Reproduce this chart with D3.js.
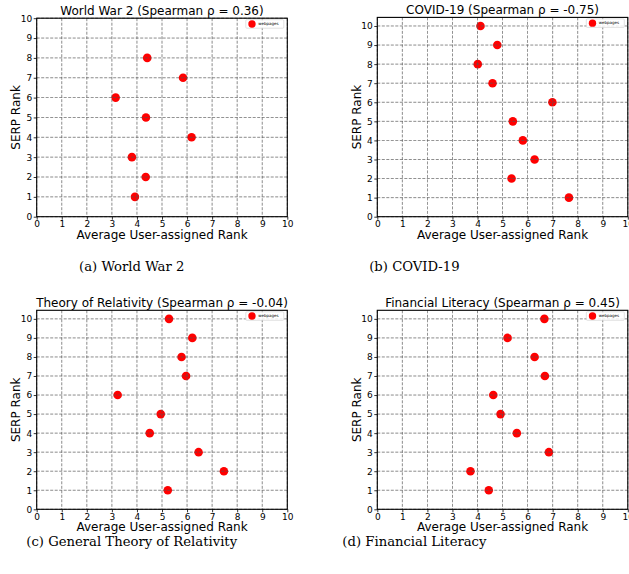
<!DOCTYPE html>
<html>
<head>
<meta charset="utf-8">
<script src="https://cdnjs.cloudflare.com/ajax/libs/d3/7.8.5/d3.min.js"></script>
<style>
  html, body { margin: 0; padding: 0; background: #fff; }
  svg { display: block; }
</style>
</head>
<body>
<svg id="chart" width="629" height="574"></svg>
<script>
// ---- data ----
const panelTitles = [
  "World War 2 (Spearman ρ = 0.36)",
  "COVID-19 (Spearman ρ = -0.75)",
  "Theory of Relativity (Spearman ρ = -0.04)",
  "Financial Literacy (Spearman ρ = 0.45)"
];
const panelCaptions = [
  "(a) World War 2",
  "(b) COVID-19",
  "(c) General Theory of Relativity",
  "(d) Financial Literacy"
];
const xTickLabels = [0, 1, 2, 3, 4, 5, 6, 7, 8, 9, 10];
const yTickLabels = [0, 1, 2, 3, 4, 5, 6, 7, 8, 9, 10];
const xLabel = "Average User-assigned Rank";
const yLabel = "SERP Rank";
const legendLabel = "webpages";

// SERP rank 1..n, average user-assigned rank
const serpWW2 = [1, 2, 3, 4, 5, 6, 7, 8];
const userWW2 = [3.92, 4.35, 3.80, 6.18, 4.36, 3.15, 5.84, 4.41];
const serpCovid = [1, 2, 3, 4, 5, 6, 7, 8, 9, 10];
const userCovid = [7.65, 5.36, 6.28, 5.81, 5.41, 6.99, 4.60, 4.01, 4.79, 4.12];
const serpRel = [1, 2, 3, 4, 5, 6, 7, 8, 9, 10];
const userRel = [5.23, 7.47, 6.46, 4.51, 4.95, 3.23, 5.96, 5.78, 6.21, 5.28];
const serpFin = [1, 2, 3, 4, 5, 6, 7, 8, 9, 10];
const userFin = [4.45, 3.72, 6.85, 5.57, 4.92, 4.63, 6.69, 6.28, 5.20, 6.67];

const yMaxes = [10, 10.45, 10.45, 10.45];

// ---- layout ----
const panels = [
  { left: 36.7, right: 287.3, top: 18.2, bottom: 216.7, capX: 131.7, capY: 271, serp: serpWW2, user: userWW2 },
  { left: 377.3, right: 627.8, top: 17.4, bottom: 216.7, capX: 414.4, capY: 271, serp: serpCovid, user: userCovid },
  { left: 36.7, right: 287.3, top: 310.3, bottom: 509.3, capX: 131.7, capY: 546, serp: serpRel, user: userRel },
  { left: 377.3, right: 627.8, top: 310.3, bottom: 509.3, capX: 414.4, capY: 546, serp: serpFin, user: userFin }
];

const svg = d3.select("#chart");
const sans = "'DejaVu Sans', sans-serif";
const serif = "'DejaVu Serif', serif";

panels.forEach((p, i) => {
  const x = d3.scaleLinear().domain([0, 10]).range([p.left, p.right]);
  const y = d3.scaleLinear().domain([0, yMaxes[i]]).range([p.bottom, p.top]);
  const g = svg.append("g");

  // markers
  const pts = p.serp.map((s, k) => ({ s, u: p.user[k] }));
  g.selectAll("circle.pt").data(pts).enter().append("circle")
    .attr("class", "pt")
    .attr("cx", d => x(d.u)).attr("cy", d => y(d.s))
    .attr("r", 4.3).attr("fill", "#ff0000");

  // grid (on top of markers)
  g.selectAll("line.gx").data(xTickLabels).enter().append("line")
    .attr("x1", d => x(d)).attr("x2", d => x(d))
    .attr("y1", p.top).attr("y2", p.bottom)
    .attr("stroke", "#555").attr("stroke-width", 0.8)
    .attr("stroke-dasharray", "3,1.5").attr("opacity", 0.85);
  g.selectAll("line.gy").data(yTickLabels).enter().append("line")
    .attr("y1", d => y(d)).attr("y2", d => y(d))
    .attr("x1", p.left).attr("x2", p.right)
    .attr("stroke", "#555").attr("stroke-width", 0.8)
    .attr("stroke-dasharray", "3,1.5").attr("opacity", 0.85);

  // axes
  const xAxis = d3.axisBottom(x).tickValues(xTickLabels).tickSize(3).tickPadding(1).tickFormat(d3.format("d"));
  const yAxis = d3.axisLeft(y).tickValues(yTickLabels).tickSize(3).tickPadding(1.5).tickFormat(d3.format("d"));
  const gx = g.append("g").attr("transform", `translate(0,${p.bottom})`).call(xAxis);
  const gy = g.append("g").attr("transform", `translate(${p.left},0)`).call(yAxis);
  [gx, gy].forEach(a => {
    a.select(".domain").remove();
    a.selectAll("text").attr("font-family", sans).attr("font-size", 9).attr("fill", "#000");
    a.selectAll("line").attr("stroke", "#000").attr("stroke-width", 0.8);
  });

  // frame
  g.append("rect")
    .attr("x", p.left).attr("y", p.top)
    .attr("width", p.right - p.left).attr("height", p.bottom - p.top)
    .attr("fill", "none").attr("stroke", "#000").attr("stroke-width", 1.1);

  // title
  g.append("text")
    .attr("x", (p.left + p.right) / 2).attr("y", p.top - 3)
    .attr("text-anchor", "middle").attr("font-family", sans).attr("font-size", 12)
    .attr("fill", "#000").text(panelTitles[i]);

  // axis labels
  g.append("text")
    .attr("x", (p.left + p.right) / 2).attr("y", p.bottom + 22)
    .attr("text-anchor", "middle").attr("font-family", sans).attr("font-size", 12)
    .attr("fill", "#000").text(xLabel);
  g.append("text")
    .attr("transform", `translate(${p.left - 16.5},${(p.top + p.bottom) / 2}) rotate(-90)`)
    .attr("text-anchor", "middle").attr("font-family", sans).attr("font-size", 12)
    .attr("fill", "#000").text(yLabel);

  // legend
  const lw = 38, lh = 8.5;
  const lx = p.right - 3.5 - lw, ly = p.top + 1.5;
  const lg = g.append("g");
  lg.append("rect").attr("x", lx).attr("y", ly).attr("width", lw).attr("height", lh)
    .attr("rx", 1).attr("fill", "#fff").attr("fill-opacity", 0.85)
    .attr("stroke", "#ccc").attr("stroke-width", 0.6);
  lg.append("circle").attr("cx", lx + 6.2).attr("cy", ly + lh / 2).attr("r", 3.7).attr("fill", "#ff0000");
  lg.append("text").attr("x", lx + 12.5).attr("y", ly + lh / 2 + 1.3)
    .attr("font-family", sans).attr("font-size", 4).attr("fill", "#000").text(legendLabel);

  // caption
  svg.append("text")
    .attr("x", p.capX).attr("y", p.capY)
    .attr("text-anchor", "middle").attr("font-family", serif).attr("font-size", 13.2)
    .attr("fill", "#000").text(panelCaptions[i]);
});
</script>
</body>
</html>
